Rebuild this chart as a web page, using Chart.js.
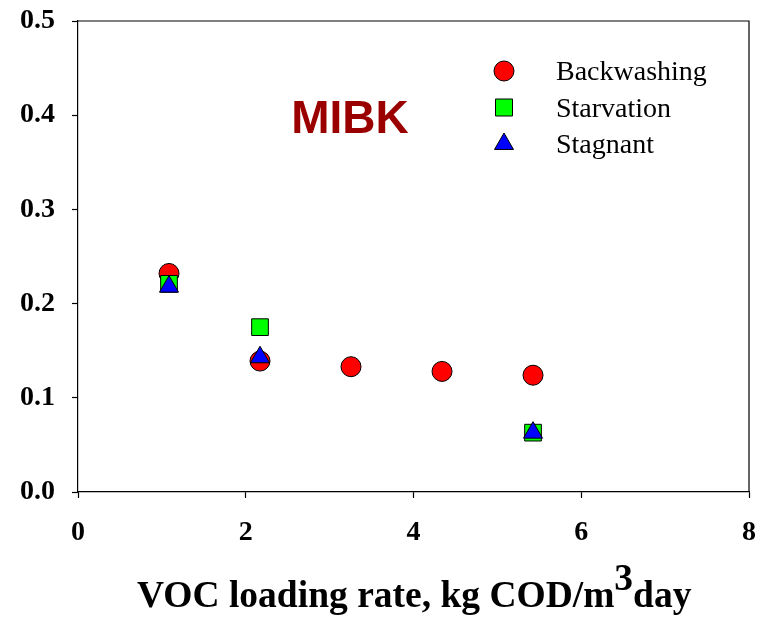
<!DOCTYPE html>
<html><head><meta charset="utf-8">
<script src="https://cdn.jsdelivr.net/npm/chart.js@4.4.0/dist/chart.umd.min.js"></script>
<style>html,body{margin:0;padding:0;background:#fff}#wrap{width:762px;height:617px}</style>
</head><body><div id="wrap"><canvas id="c" width="762" height="617"></canvas></div>
<script>
const backwashingX = [1.085, 2.17, 3.255, 4.34, 5.425];
const backwashing  = [0.232, 0.139, 0.133, 0.128, 0.124];
const starvationX  = [1.085, 2.17, 5.425];
const starvation   = [0.221, 0.175, 0.063];
const stagnantX    = [1.085, 2.17, 5.425];
const stagnant     = [0.218, 0.143, 0.063];
const xTicks = [0, 2, 4, 6, 8];
const yTicks = [0, 0.1, 0.2, 0.3, 0.4, 0.5];
const seriesNames = ['Backwashing', 'Starvation', 'Stagnant'];
const chartLabel = 'MIBK';
const xTitleParts = ['VOC loading rate, kg COD/m', '3', 'day'];

const pts = (xs, ys) => xs.map((x, i) => ({x: x, y: ys[i]}));
const tickFont = {family: '"Liberation Serif", "Times New Roman", serif', size: 28, weight: 'bold'};
const noPad = s => { s.paddingTop = 0; s.paddingBottom = 0; s.paddingLeft = 0; s.paddingRight = 0; };

const deco = {
  id: 'deco',
  beforeDatasetsDraw(chart) {
    const {ctx, chartArea: a} = chart;
    ctx.save();
    ctx.strokeStyle = '#000';
    ctx.lineWidth = 1.2;
    ctx.beginPath();
    ctx.moveTo(a.left, a.top); ctx.lineTo(a.right, a.top); ctx.lineTo(a.right, a.bottom);
    ctx.stroke();
    // panel label
    ctx.font = 'bold 46px "Liberation Sans", Arial, sans-serif';
    ctx.fillStyle = '#9b0000';
    ctx.textAlign = 'center';
    ctx.textBaseline = 'alphabetic';
    ctx.fillText(chartLabel, a.left + 272, a.top + 112);
    // legend
    const lx = a.left + 426, ly = a.top + 50, step = 36.5;
    ctx.lineWidth = 1;
    ctx.strokeStyle = '#000';
    ctx.beginPath(); ctx.arc(lx, ly, 10, 0, Math.PI * 2);
    ctx.fillStyle = '#ff0000'; ctx.fill(); ctx.stroke();
    ctx.beginPath(); ctx.rect(lx - 8.5, ly + step - 8.5, 17, 17);
    ctx.fillStyle = '#00ff00'; ctx.fill(); ctx.stroke();
    const r = 11, ty = ly + 2 * step;
    ctx.beginPath();
    ctx.moveTo(lx, ty - r);
    ctx.lineTo(lx + r * Math.sin(2 * Math.PI / 3), ty - r * Math.cos(2 * Math.PI / 3));
    ctx.lineTo(lx + r * Math.sin(4 * Math.PI / 3), ty - r * Math.cos(4 * Math.PI / 3));
    ctx.closePath();
    ctx.fillStyle = '#0000ff'; ctx.fill(); ctx.stroke();
    ctx.fillStyle = '#000';
    ctx.font = '28px "Liberation Serif", "Times New Roman", serif';
    ctx.textAlign = 'left';
    seriesNames.forEach((n, i) => ctx.fillText(n, lx + 52, ly + i * step + 9));
    // x title
    ctx.font = 'bold 37.5px "Liberation Serif", "Times New Roman", serif';
    let x = 137; const base = 607;
    ctx.fillText(xTitleParts[0], x, base); x += ctx.measureText(xTitleParts[0]).width;
    ctx.fillText(xTitleParts[1], x, base - 17); x += ctx.measureText(xTitleParts[1]).width;
    ctx.fillText(xTitleParts[2], x, base);
    ctx.restore();
  }
};

new Chart(document.getElementById('c'), {
  type: 'scatter',
  data: {
    datasets: [
      {label: seriesNames[0], data: pts(backwashingX, backwashing), pointStyle: 'circle', pointRadius: 10,
       backgroundColor: '#ff0000', borderColor: '#000', pointBorderWidth: 1, order: 2},
      {label: seriesNames[1], data: pts(starvationX, starvation), pointStyle: 'rect', pointRadius: 11.8,
       backgroundColor: '#00ff00', borderColor: '#000', pointBorderWidth: 1, order: 1},
      {label: seriesNames[2], data: pts(stagnantX, stagnant), pointStyle: 'triangle', pointRadius: 11,
       backgroundColor: '#0000ff', borderColor: '#000', pointBorderWidth: 1, order: 0}
    ]
  },
  options: {
    responsive: false, animation: false, devicePixelRatio: 1,
    layout: {autoPadding: false, padding: {top: 21, right: 13, left: 0, bottom: 0}},
    plugins: {legend: {display: false}, tooltip: {enabled: false}},
    scales: {
      x: {
        type: 'linear', min: 0, max: 8,
        afterBuildTicks: s => { s.ticks = xTicks.map(v => ({value: v})); },
        afterFit: s => { s.height = 125; noPad(s); },
        ticks: {font: tickFont, color: '#000', padding: 18, maxRotation: 0, callback: v => String(v)},
        grid: {drawOnChartArea: false, drawTicks: true, tickLength: 6, tickColor: '#000', tickWidth: 1.2},
        border: {display: true, color: '#000', width: 1.2}
      },
      y: {
        type: 'linear', min: 0, max: 0.5,
        afterBuildTicks: s => { s.ticks = yTicks.map(v => ({value: v})); },
        afterFit: s => { s.width = 78; noPad(s); },
        ticks: {font: tickFont, color: '#000', padding: 17, callback: v => Number(v).toFixed(1)},
        grid: {drawOnChartArea: false, drawTicks: true, tickLength: 6, tickColor: '#000', tickWidth: 1.2},
        border: {display: true, color: '#000', width: 1.2}
      }
    }
  },
  plugins: [deco]
});
</script>
</body></html>
